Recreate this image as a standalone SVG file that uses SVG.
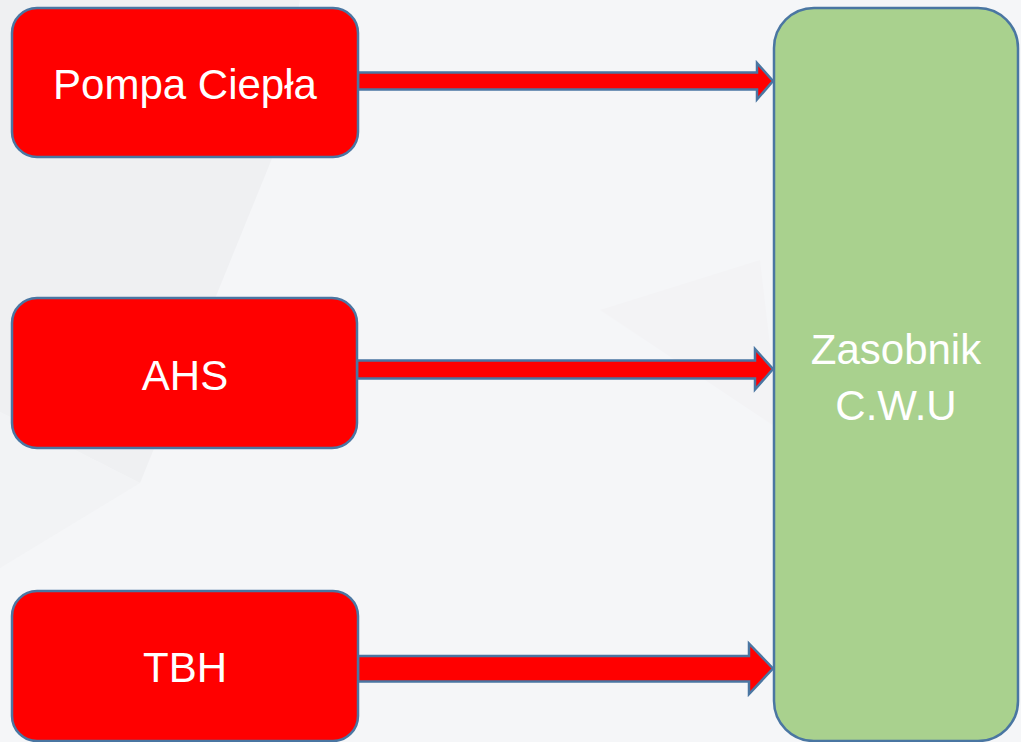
<svg xmlns="http://www.w3.org/2000/svg" width="1021" height="742" viewBox="0 0 1021 742">
<style>
.src{fill:#FF0000;stroke:#4A76A2;stroke-width:2.5}
.dst{fill:#A9D18E;stroke:#4A76A2;stroke-width:2.5}
.arr{fill:#FF0000;stroke:#4A76A2;stroke-width:2.5;stroke-linejoin:miter}
.lbl{font-family:"Liberation Sans",Arial,sans-serif;font-size:42px;fill:#FFFFFF;text-anchor:middle}
</style>
<rect x="0" y="0" width="1021" height="742" fill="#F5F6F8"/>
<g id="background">
<polygon points="0,0 300,0 273,156 140,483 0,412" fill="#EFF0F2"/>
<polygon points="0,412 140,483 0,568" fill="#F2F3F5"/>
<polygon points="600,310 760,260 780,430" fill="#F3F3F5"/>
</g>
<g id="connectors">
<polygon class="arr" points="358,72.5 757,72.5 757,63 773,81 757,99.5 757,89.5 358,89.5"/>
<polygon class="arr" points="357,360.5 755,360.5 755,349 773,369 755,389.5 755,378.5 357,378.5"/>
<polygon class="arr" points="358,656 749,656 749,643.5 773,668.5 749,694 749,681.5 358,681.5"/>
</g>
<g id="node-pompa">
<rect class="src" x="12" y="8" width="346" height="149" rx="25" ry="25"/>
<text class="lbl" x="185" y="99">Pompa Ciepła</text>
</g>
<g id="node-ahs">
<rect class="src" x="12" y="298" width="345" height="150" rx="25" ry="25"/>
<text class="lbl" x="185" y="390">AHS</text>
</g>
<g id="node-tbh">
<rect class="src" x="12" y="591" width="346" height="150" rx="25" ry="25"/>
<text class="lbl" x="185" y="682">TBH</text>
</g>
<g id="node-zasobnik">
<rect class="dst" x="774" y="8" width="244" height="733" rx="40" ry="40"/>
<text class="lbl" x="896" y="364">Zasobnik</text>
<text class="lbl" x="896" y="420">C.W.U</text>
</g>
</svg>
